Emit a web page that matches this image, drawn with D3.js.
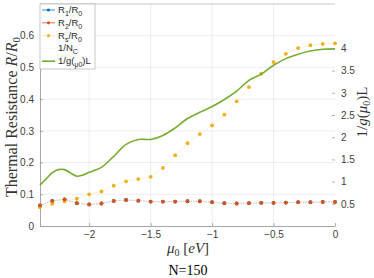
<!DOCTYPE html>
<html>
<head>
<meta charset="utf-8">
<script src="https://cdn.jsdelivr.net/npm/d3@7"></script>
<style>
  body { margin: 0; background: #fff; }
  svg { display: block; }
  .tick text { font-family: "Liberation Sans", Arial, sans-serif; font-size: 10px; fill: #404040; }
</style>
</head>
<body>
<div id="chart"></div>
<script>
// data
const mu = [-2.4, -2.3, -2.2, -2.1, -2.0, -1.9, -1.8, -1.7, -1.6, -1.5, -1.4, -1.3, -1.2,
            -1.1, -1.0, -0.9, -0.8, -0.7, -0.6, -0.5, -0.4, -0.3, -0.2, -0.1, 0];
const r1 = [0.065, 0.079, 0.084, 0.072, 0.068, 0.071, 0.079, 0.082, 0.080, 0.077, 0.077, 0.077, 0.078,
            0.078, 0.075, 0.072, 0.071, 0.072, 0.073, 0.073, 0.074, 0.075, 0.075, 0.076, 0.076];
const r2 = [0.065, 0.079, 0.084, 0.072, 0.068, 0.071, 0.079, 0.082, 0.080, 0.077, 0.077, 0.077, 0.078,
            0.078, 0.075, 0.072, 0.071, 0.072, 0.073, 0.073, 0.074, 0.075, 0.075, 0.076, 0.076];
const rs = [0.059, 0.070, 0.078, 0.086, 0.100, 0.109, 0.127, 0.141, 0.148, 0.155, 0.183, 0.223, 0.261,
            0.290, 0.317, 0.351, 0.393, 0.438, 0.480, 0.517, 0.543, 0.561, 0.570, 0.574, 0.576];
const gMu = [-2.4, -2.35, -2.3, -2.25, -2.2, -2.15, -2.1, -2.05, -2.0, -1.95, -1.9, -1.8, -1.7, -1.6,
             -1.5, -1.4, -1.3, -1.2, -1.1, -1.0, -0.9, -0.8, -0.7, -0.6, -0.5, -0.4, -0.3, -0.2, -0.1, 0];
const gVal = [0.92, 1.06, 1.20, 1.27, 1.27, 1.19, 1.12, 1.15, 1.21, 1.26, 1.32, 1.57, 1.84, 1.95,
              1.95, 2.04, 2.21, 2.42, 2.56, 2.69, 2.85, 3.04, 3.28, 3.42, 3.62, 3.77, 3.87, 3.94, 3.98, 3.99];
const xTicks = [-2, -1.5, -1, -0.5, 0];
const yTicks = [0, 0.1, 0.2, 0.3, 0.4, 0.5, 0.6];
const y2Ticks = [0.5, 1, 1.5, 2, 2.5, 3, 3.5, 4];

const W = 374, H = 278;
const box = { left: 40, right: 335, top: 4, bottom: 226 };

const svg = d3.select("#chart").append("svg").attr("width", W).attr("height", H);

const x = d3.scaleLinear().domain([-2.4, 0]).range([box.left, box.right]);
const y = d3.scaleLinear().domain([0, 0.7]).range([box.bottom, box.top]);
const y2 = d3.scaleLinear().domain([0, 5]).range([box.bottom, box.top]);

// grid
svg.append("g").selectAll("line").data(yTicks.slice(1)).enter().append("line")
  .attr("x1", box.left).attr("x2", box.right)
  .attr("y1", d => y(d)).attr("y2", d => y(d))
  .attr("stroke", "#e8e8e8").attr("stroke-width", 0.8);
svg.append("g").selectAll("line").data(xTicks.slice(0, -1)).enter().append("line")
  .attr("y1", box.top).attr("y2", box.bottom)
  .attr("x1", d => x(d)).attr("x2", d => x(d))
  .attr("stroke", "#e8e8e8").attr("stroke-width", 0.8);

// top border
svg.append("line").attr("x1", box.left).attr("x2", box.right)
  .attr("y1", box.top).attr("y2", box.top).attr("stroke", "#a0a0a0").attr("stroke-width", 0.6);

// axes
const gx = svg.append("g").attr("transform", `translate(0,${box.bottom})`)
  .call(d3.axisBottom(x).tickValues(xTicks).tickSizeInner(-3).tickSizeOuter(0).tickPadding(5)
        .tickFormat(d => d3.format("")(d)));
const gy = svg.append("g").attr("transform", `translate(${box.left},0)`)
  .call(d3.axisLeft(y).tickValues(yTicks).tickSizeInner(-3).tickSizeOuter(0).tickPadding(6)
        .tickFormat(d => d === 0 ? "0" : d3.format(".1f")(d)));
const gy2 = svg.append("g").attr("transform", `translate(${box.right},0)`)
  .call(d3.axisRight(y2).tickValues(y2Ticks).tickSizeInner(-3).tickSizeOuter(0).tickPadding(6)
        .tickFormat(d3.format("")));
[gx, gy, gy2].forEach(g => {
  g.select(".domain").attr("stroke", "#909090").attr("stroke-width", 0.8);
  g.selectAll(".tick line").attr("stroke", "#909090").attr("stroke-width", 0.7);
});
gy2.select(".domain").attr("stroke", "none");

// series
const line = (xs, ys, sc) => d3.line().x((d, i) => x(xs[i])).y(d => sc(d));
function series(vals, color, lineCol) {
  const g = svg.append("g");
  g.append("path").datum(vals).attr("d", line(mu, vals, y))
    .attr("fill", "none").attr("stroke", lineCol).attr("stroke-width", 0.8)
    .attr("stroke-dasharray", "1.5,1");
  g.selectAll("circle").data(vals).enter().append("circle")
    .attr("cx", (d, i) => x(mu[i])).attr("cy", d => y(d)).attr("r", 1.9).attr("fill", color);
}
series(r1, "#0072BD", "#b5d0ea");
series(rs, "#EDB120", "#f4e2a8");
series(r2, "#D95319", "#f3b9a6");

svg.append("path").datum(gVal)
  .attr("d", d3.line().x((d, i) => x(gMu[i])).y(d => y2(d)).curve(d3.curveCatmullRom))
  .attr("fill", "none").attr("stroke", "#77AC30").attr("stroke-width", 1.6);

// legend
const lg = svg.append("g");
lg.append("rect").attr("x", box.left).attr("y", box.top).attr("width", 55).attr("height", 65)
  .attr("fill", "#fff").attr("stroke", "#a0a0a0").attr("stroke-width", 0.6);
const items = [
  { c: "#0072BD", main: "R", sub: "1", rest: "/R", sub2: "0", marker: true, lw: 0.8 },
  { c: "#D95319", main: "R", sub: "2", rest: "/R", sub2: "0", marker: true, lw: 0.8 },
  { c: "#EDB120", main: "R", sub: "s", rest: "/R", sub2: "0", marker: true, lw: 0.8, lineCol: "#f4e2a8" },
  { c: "#f4f4f4", main: "1/N", sub: "C", rest: "", sub2: "", marker: false, lw: 0.8 },
  { c: "#77AC30", main: "1/g(", sub: "μ0", rest: ")L", sub2: "", marker: false, lw: 1.6 }
];
items.forEach((it, i) => {
  const cy = 10 + i * 12.8;
  lg.append("line").attr("x1", 42).attr("x2", 55).attr("y1", cy).attr("y2", cy)
    .attr("stroke", it.lineCol || it.c).attr("stroke-width", it.lw);
  if (it.marker) lg.append("circle").attr("cx", 48.5).attr("cy", cy).attr("r", 1.6).attr("fill", it.c);
  const t = lg.append("text").attr("x", 58).attr("y", cy + 3)
    .style("font-family", "'Liberation Sans', Arial, sans-serif").style("font-size", "9.5px").attr("fill", "#262626");
  t.append("tspan").text(it.main);
  t.append("tspan").attr("dy", 3).style("font-size", "7px").text(it.sub);
  if (it.rest) t.append("tspan").attr("dy", -3).text(it.rest);
  if (it.sub2) t.append("tspan").attr("dy", 3).style("font-size", "7px").text(it.sub2);
});

// labels
const serif = "'Liberation Serif', 'DejaVu Serif', serif";
const yl = svg.append("text").attr("transform", `translate(17,${(box.top + box.bottom) / 2 + 2}) rotate(-90)`)
  .attr("text-anchor", "middle").style("font-family", serif).style("font-size", "16px").attr("fill", "#333");
yl.append("tspan").text("Thermal Resistance ");
yl.append("tspan").style("font-style", "italic").text("R");
yl.append("tspan").text("/");
yl.append("tspan").style("font-style", "italic").text("R");
yl.append("tspan").attr("dy", 3).style("font-size", "11px").text("0");

const y2l = svg.append("text").attr("transform", `translate(367,112) rotate(-90)`)
  .attr("text-anchor", "middle").style("font-family", serif).style("font-size", "15px").attr("fill", "#333");
y2l.append("tspan").text("1/");
y2l.append("tspan").style("font-style", "italic").text("g");
y2l.append("tspan").text("(");
y2l.append("tspan").style("font-style", "italic").text("μ");
y2l.append("tspan").attr("dy", 3).style("font-size", "10px").text("0");
y2l.append("tspan").attr("dy", -3).text(")L");

const xl = svg.append("text").attr("x", 188).attr("y", 253)
  .attr("text-anchor", "middle").style("font-family", serif).style("font-size", "15px").attr("fill", "#333");
xl.append("tspan").style("font-style", "italic").text("μ");
xl.append("tspan").attr("dy", 3).style("font-size", "10px").text("0");
xl.append("tspan").attr("dy", -3).text(" [");
xl.append("tspan").style("font-style", "italic").text("eV");
xl.append("tspan").text("]");

svg.append("text").attr("x", 188).attr("y", 275).attr("text-anchor", "middle")
  .style("font-family", serif).style("font-size", "14px").attr("fill", "#000").text("N=150");
</script>
</body>
</html>
